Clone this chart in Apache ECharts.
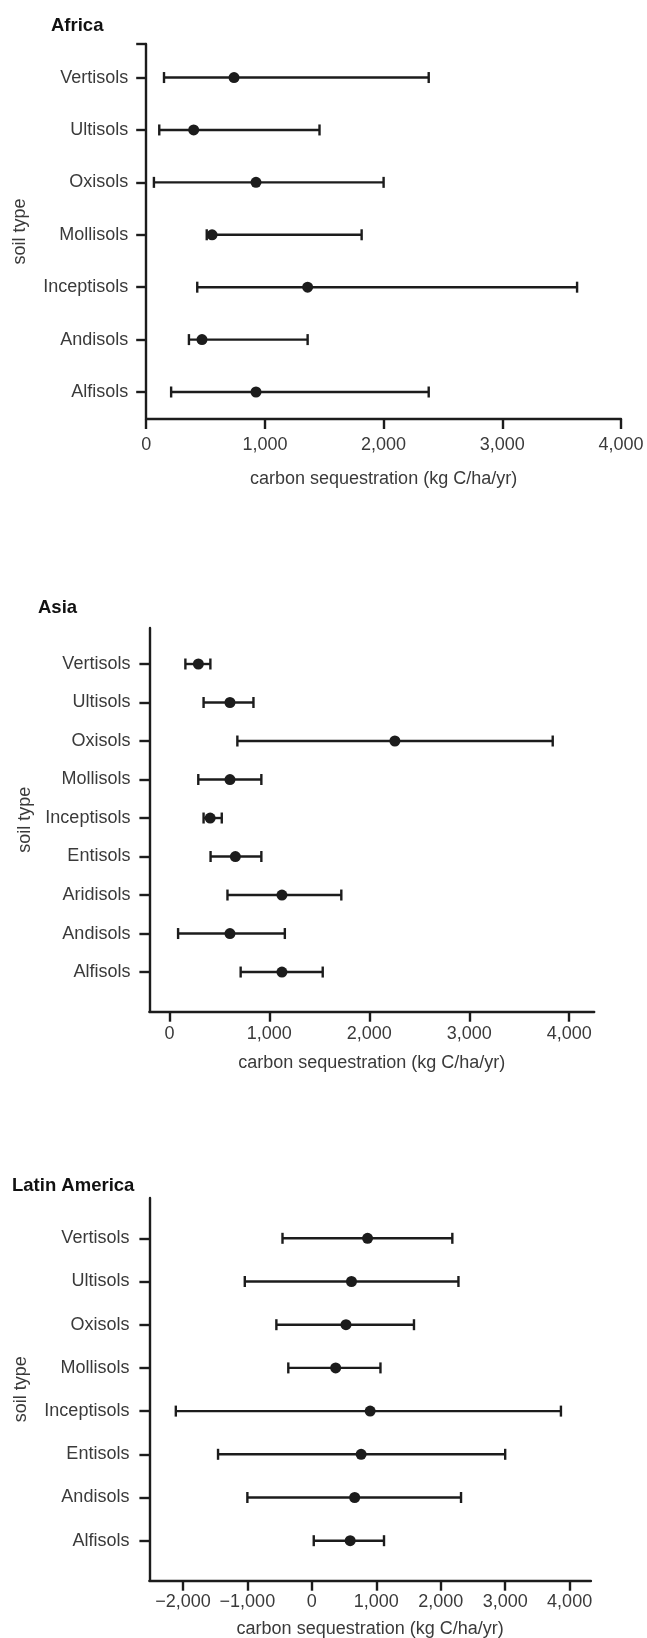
<!DOCTYPE html>
<html>
<head>
<meta charset="utf-8">
<script src="https://cdn.jsdelivr.net/npm/echarts@6/dist/echarts.min.js"></script>
<style>
  html, body { margin: 0; padding: 0; background: #fff; }
  #chart { width: 647px; height: 1638px; }
</style>
</head>
<body>
<div id="chart"></div>
<script>
// Soil types, listed from the bottom row of each panel upwards
const africaSoils = ['Alfisols', 'Andisols', 'Inceptisols', 'Mollisols', 'Oxisols', 'Ultisols', 'Vertisols'];
const africaLow  = [210, 360, 430, 510, 65, 110, 150];
const africaMean = [925, 470, 1360, 555, 925, 400, 740];
const africaHigh = [2380, 1360, 3630, 1815, 2000, 1460, 2380];

const asiaSoils = ['Alfisols', 'Andisols', 'Aridisols', 'Entisols', 'Inceptisols', 'Mollisols', 'Oxisols', 'Ultisols', 'Vertisols'];
const asiaLow  = [713, 87, 581, 412, 342, 289, 680, 342, 160];
const asiaMean = [1126, 606, 1126, 660, 408, 606, 2256, 606, 290];
const asiaHigh = [1534, 1155, 1720, 920, 524, 920, 3835, 841, 410];

const latamSoils = ['Alfisols', 'Andisols', 'Entisols', 'Inceptisols', 'Mollisols', 'Oxisols', 'Ultisols', 'Vertisols'];
const latamLow  = [30, -1000, -1455, -2110, -365, -550, -1040, -455];
const latamMean = [595, 665, 765, 905, 370, 530, 615, 865];
const latamHigh = [1120, 2315, 3000, 3865, 1065, 1585, 2275, 2180];

// Tick values on the horizontal axes
const africaTicks = [0, 1000, 2000, 3000, 4000];
const asiaTicks = [0, 1000, 2000, 3000, 4000];
const latamTicks = [-2000, -1000, 0, 1000, 2000, 3000, 4000];

const panelTitles = ['Africa', 'Asia', 'Latin America'];
const xAxisName = 'carbon sequestration (kg C/ha/yr)';
const yAxisName = 'soil type';

const FONT = '"Liberation Sans", Arial, Helvetica, sans-serif';
const INK = '#1c1c1c';
const TEXT = '#3a3a3a';
const STROKE = 2.4;

function fmtNumber(v) {
  const s = Math.abs(v).toString().replace(/\B(?=(\d{3})+(?!\d))/g, ',');
  return (v < 0 ? '\u2212' : '') + s;
}

function rangeData(low, high) {
  return low.map((l, i) => [l, high[i], i]);
}
function meanData(mean) {
  return mean.map((m, i) => [m, i]);
}

// Horizontal range line with a short cap at each end
function renderRange(params, api) {
  const y = api.value(2);
  const a = api.coord([api.value(0), y]);
  const b = api.coord([api.value(1), y]);
  const h = 5.5;
  const style = { stroke: INK, lineWidth: STROKE };
  return {
    type: 'group',
    children: [
      { type: 'line', shape: { x1: a[0], y1: a[1], x2: b[0], y2: b[1] }, style: style },
      { type: 'line', shape: { x1: a[0], y1: a[1] - h, x2: a[0], y2: a[1] + h }, style: style },
      { type: 'line', shape: { x1: b[0], y1: b[1] - h, x2: b[0], y2: b[1] + h }, style: style }
    ]
  };
}

function indexList(n) {
  return Array.from({ length: n }, (_, i) => i);
}

function makeX(gridIndex, min, max, ticks, labelMargin, nameGap) {
  return {
    type: 'value', gridIndex: gridIndex, min: min, max: max,
    name: xAxisName, nameLocation: 'middle', nameGap: nameGap,
    nameTextStyle: { fontFamily: FONT, fontSize: 18, color: TEXT },
    axisLine: { show: true, onZero: false, lineStyle: { color: INK, width: STROKE } },
    axisTick: { show: true, length: 10, inside: false, customValues: ticks, lineStyle: { color: INK, width: STROKE } },
    axisLabel: { customValues: ticks, margin: labelMargin, fontFamily: FONT, fontSize: 18, color: TEXT, formatter: fmtNumber },
    splitLine: { show: false }
  };
}

function makeY(gridIndex, cats, min, max, extraTicks, labelMargin, nameGap) {
  const idx = indexList(cats.length);
  return {
    type: 'value', gridIndex: gridIndex, min: min, max: max,
    name: yAxisName, nameLocation: 'middle', nameGap: nameGap,
    nameTextStyle: { fontFamily: FONT, fontSize: 18, color: TEXT },
    axisLine: { show: true, onZero: false, lineStyle: { color: INK, width: STROKE } },
    axisTick: { show: true, length: 10, inside: false, customValues: idx.concat(extraTicks), lineStyle: { color: INK, width: STROKE } },
    axisLabel: { customValues: idx, margin: labelMargin, fontFamily: FONT, fontSize: 18, color: TEXT,
      formatter: v => cats[Math.round(v)] },
    splitLine: { show: false }
  };
}

function panelSeries(gridIndex, low, mean, high) {
  return [
    {
      type: 'custom', xAxisIndex: gridIndex, yAxisIndex: gridIndex,
      renderItem: renderRange, data: rangeData(low, high),
      encode: { x: [0, 1], y: 2 }, z: 2, silent: true
    },
    {
      type: 'scatter', xAxisIndex: gridIndex, yAxisIndex: gridIndex,
      data: meanData(mean), symbol: 'circle', symbolSize: 11,
      itemStyle: { color: INK, opacity: 1 }, z: 3, silent: true
    }
  ];
}

const titleStyle = { fontFamily: FONT, fontSize: 18.5, fontWeight: 'bold', color: '#111' };

const chart = echarts.init(document.getElementById('chart'), null, { renderer: 'canvas' });
chart.setOption({
  animation: false,
  backgroundColor: '#ffffff',
  title: [
    { text: panelTitles[0], left: 46, top: 11, textStyle: titleStyle },
    { text: panelTitles[1], left: 33, top: 593, textStyle: titleStyle },
    { text: panelTitles[2], left: 7, top: 1171, textStyle: titleStyle }
  ],
  grid: [
    { left: 146.2, width: 474.8, top: 44, height: 375, outerBoundsMode: 'none', containLabel: false },
    { left: 149.4, width: 444.8, top: 628, height: 383.7, outerBoundsMode: 'none', containLabel: false },
    { left: 149.4, width: 441.5, top: 1198, height: 382.7, outerBoundsMode: 'none', containLabel: false }
  ],
  xAxis: [
    makeX(0, 0, 4000, africaTicks, 17, 51),
    makeX(1, -200, 4250, asiaTicks, 13, 42),
    makeX(2, -2520, 4330, latamTicks, 12, 39)
  ],
  yAxis: [
    makeY(0, africaSoils, -0.515, 6.64, [6.64], 18, 117),
    makeY(1, asiaSoils, -1.03, 8.935, [], 19, 112),
    makeY(2, latamSoils, -0.926, 7.933, [], 20, 119)
  ],
  series: [].concat(
    panelSeries(0, africaLow, africaMean, africaHigh),
    panelSeries(1, asiaLow, asiaMean, asiaHigh),
    panelSeries(2, latamLow, latamMean, latamHigh)
  )
});
</script>
</body>
</html>
